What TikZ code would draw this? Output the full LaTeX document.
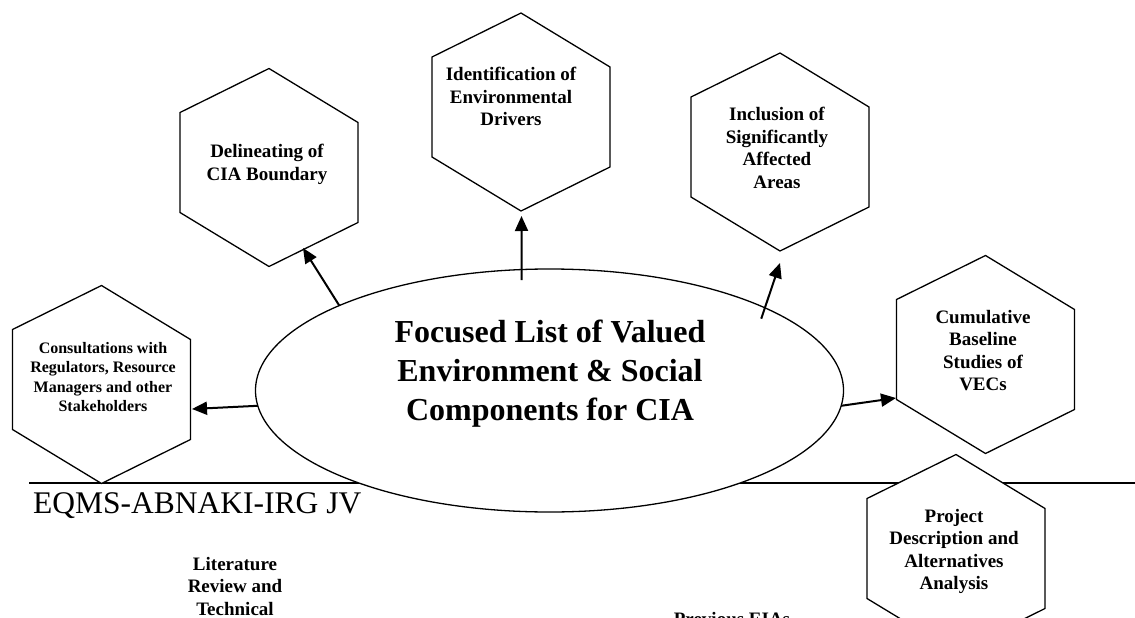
\documentclass[tikz,border=0pt]{standalone}
\usepackage{fontspec}
\setmainfont{Liberation Serif}
\usetikzlibrary{shapes.geometric,arrows.meta}

% a pointed-top hexagon around a named centre
\newcommand\hexcell[2]{%
  \coordinate (#1) at #2;
  \draw[hexline, shift={(#1)}] (0,-99) -- (89,-45) -- (89,55) -- (0,99)
    -- (-89,45) -- (-89,-55) -- cycle;}

\begin{document}
\begin{tikzpicture}[x=1pt,y=-1pt,
  hexline/.style={draw=black, line width=1.3pt, fill=white, line join=miter},
  hextext/.style={font=\fontsize{19}{22.5}\selectfont\bfseries, align=center,
    inner sep=0pt, anchor=north},
  smalltext/.style={hextext, font=\fontsize{16}{19.5}\selectfont\bfseries},
  bigtext/.style={hextext, font=\fontsize{32}{39}\selectfont\bfseries},
  flow/.style={-{Triangle[length=15pt,width=13pt]}, line width=2pt},
  rule/.style={line width=1.3pt}]
\useasboundingbox (0,0) rectangle (1135,618);
\clip (0,0) rectangle (1135,618);

% page header rule and firm name
\coordinate (ruleL) at (29,483);
\coordinate (ruleR) at (1135,483);
\draw[rule] (ruleL) -- (ruleR);
\node[anchor=base west, inner sep=0pt, font=\fontsize{31.5}{38}\selectfont]
  (firm) at (33,513) {EQMS-ABNAKI-IRG JV};

% central ellipse
\node[draw, fill=white, ellipse, minimum width=588pt, minimum height=243pt,
  inner sep=0pt, outer sep=0pt, line width=1.3pt] (ell) at (549.5,390.5) {};
\node[bigtext] (elltext) at (550,320)
  {Focused List of Valued\\Environment \& Social\\Components for CIA};

% surrounding hexagons
\hexcell{cons}{(101.5,384.5)}
\hexcell{del}{(269,167.5)}
\hexcell{idf}{(521,112)}
\hexcell{inc}{(780,152)}
\hexcell{cum}{(985.5,354.5)}
\hexcell{proj}{(956,553.5)}

\node[smalltext] (consT) at (103,342)
  {Consultations with\\Regulators, Resource\\Managers and other\\Stakeholders};
\node[hextext] (delT) at (267,144) {Delineating of\\CIA Boundary};
\node[hextext] (idfT) at (511,67) {Identification of\\Environmental\\Drivers};
\node[hextext] (incT) at (777,107) {Inclusion of\\Significantly\\Affected\\Areas};
\node[hextext] (cumT) at (983,310) {Cumulative\\Baseline\\Studies of\\VECs};
\node[hextext] (projT) at (954,509) {Project\\Description and\\Alternatives\\Analysis};

% lower labels
\node[hextext] (lit) at (235,557) {Literature\\Review and\\Technical};
\node[hextext] (eia) at (732,612) {Previous EIAs};

% arrow heads meet the hexagon outlines here
\coordinate (consTip) at (192,409);
\coordinate (delTip) at (303,248);
\coordinate (idfTip) at (521.5,216);
\coordinate (incTip) at (780,263);
\coordinate (cumTip) at (896,398);

\draw[flow] (ell.183.6) -- (consTip);
\draw[flow] (ell.158.5) -- (delTip);
\draw[flow, shorten <=-10.5pt] (ell.103) -- (idfTip);
\draw[flow, shorten <=-11.5pt] (ell.21.6) -- (incTip);
\draw[flow] (ell.357.5) -- (cumTip);
\end{tikzpicture}
\end{document}
